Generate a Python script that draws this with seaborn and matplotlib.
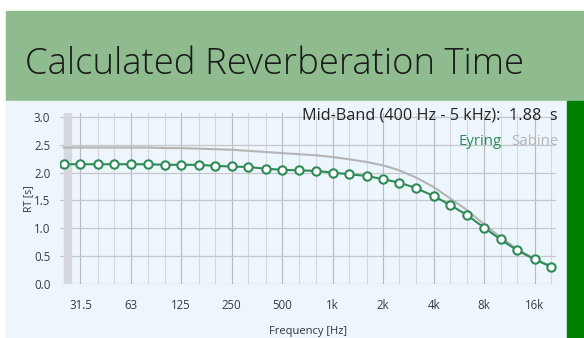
import numpy as np
import pandas as pd
import matplotlib
matplotlib.use("Agg")
import matplotlib.pyplot as plt
from matplotlib.patches import Rectangle
import seaborn as sns

# third-octave band centres (Hz)
freqs = [25, 31.5, 40, 50, 63, 80, 100, 125, 160, 200, 250, 315, 400, 500, 630,
         800, 1000, 1250, 1600, 2000, 2500, 3150, 4000, 5000, 6300, 8000, 10000,
         12500, 16000, 20000]
eyring = [2.15, 2.15, 2.15, 2.15, 2.15, 2.15, 2.14, 2.14, 2.14, 2.12, 2.11, 2.10,
          2.07, 2.05, 2.04, 2.03, 2.00, 1.97, 1.94, 1.88, 1.82, 1.72, 1.58, 1.42,
          1.24, 1.01, 0.80, 0.61, 0.44, 0.31]
sabine = [2.45, 2.45, 2.45, 2.45, 2.45, 2.45, 2.44, 2.44, 2.43, 2.42, 2.41, 2.39,
          2.37, 2.35, 2.33, 2.31, 2.28, 2.24, 2.19, 2.13, 2.04, 1.91, 1.74, 1.54,
          1.33, 1.07, 0.84, 0.63, 0.45, 0.32]
tick_freqs = [31.5, 63, 125, 250, 500, 1000, 2000, 4000, 8000, 16000]
tick_labels = ["31.5", "63", "125", "250", "500", "1k", "2k", "4k", "8k", "16k"]
y_ticks = [0.0, 0.5, 1.0, 1.5, 2.0, 2.5, 3.0]
mid_band = 1.88

df = pd.DataFrame({"freq": freqs, "Eyring": eyring, "Sabine": sabine})

sns.set_style("white")
plt.rcParams["font.family"] = ["Open Sans", "DejaVu Sans"]

W, H = 584, 338
fig = plt.figure(figsize=(W / 100, H / 100), dpi=100)
fig.patch.set_facecolor("white")

def px_rect(x0, y0, x1, y1, color):
    fig.patches.append(Rectangle((x0 / W, 1 - y1 / H), (x1 - x0) / W, (y1 - y0) / H,
                                 transform=fig.transFigure, color=color, zorder=-5))

px_rect(6, 11, 584, 101, "#8fbc8f")
px_rect(6, 101, 567, 338, "#eef6fd")
px_rect(567, 101, 584, 338, "#008000")

fig.text(25 / W, 1 - 74 / H, "Calculated Reverberation Time", fontsize=26.3,
         fontweight="light", color="#1a1a1a", va="baseline", ha="left")

ax = fig.add_axes([60 / W, 1 - 284 / H, (556 - 60) / W, (284 - 113) / H])
ax.set_zorder(2)
ax.set_facecolor("none")
ax.set_xscale("log", base=2)
ax.set_xlim(23.8, 21400)
ax.set_ylim(0, 3.07)

# minor third-octave grid, darker octave grid
for f in freqs:
    ax.axvline(f, color="#d4d8dc", lw=0.8, zorder=0)
for f in tick_freqs:
    ax.axvline(f, color="#b8bcc0", lw=0.8, zorder=0)
for y in y_ticks:
    ax.axhline(y, color="#c4c8cc", lw=0.9, zorder=0)
ax.axvspan(25, 27.5, color="#d5d9dd", zorder=0.5)

sns.lineplot(data=df, x="freq", y="Sabine", ax=ax, color="#b4b4b4", lw=1.5, zorder=2)
sns.lineplot(data=df, x="freq", y="Eyring", ax=ax, color="#2e8b57", lw=1.5,
             marker="o", markersize=6, markerfacecolor="white",
             markeredgecolor="#2e8b57", markeredgewidth=1.5, zorder=3)

ax.set_xticks(tick_freqs)
ax.set_xticklabels(tick_labels)
ax.minorticks_off()
ax.set_yticks(y_ticks)
ax.set_yticklabels([f"{v:.1f}" for v in y_ticks])
ax.tick_params(axis="x", length=3, color="#b8bcc0", labelsize=8.3, labelcolor="#3a3a3a", pad=8)
ax.tick_params(axis="y", length=3, color="#c4c8cc", labelsize=8.3, labelcolor="#3a3a3a", pad=4)
for s in ax.spines.values():
    s.set_visible(False)
ax.set_xlabel("Frequency [Hz]", fontsize=8, color="#333333", labelpad=10)
ax.set_ylabel("RT [s]", fontsize=7.5, color="#333333", labelpad=0)

fig.text(558 / W, 1 - 116 / H, f"Mid-Band (400 Hz - 5 kHz):  {mid_band:.2f}  s",
         fontsize=11.7, color="#222222", ha="right", va="center")
fig.text(558 / W, 1 - 142 / H, "Sabine", fontsize=10.8, color="#b4b4b4", ha="right", va="center")
fig.text(502 / W, 1 - 142 / H, "Eyring", fontsize=10.8, color="#2e8b57", ha="right", va="center")

fig.savefig("out.png", dpi=100)
